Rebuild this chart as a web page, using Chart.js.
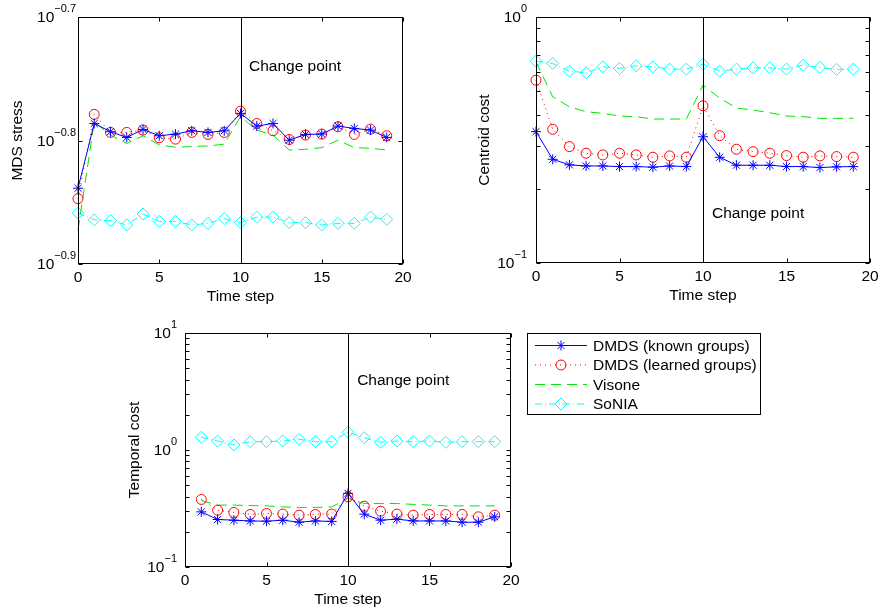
<!DOCTYPE html>
<html>
<head>
<meta charset="utf-8">
<script src="https://cdn.jsdelivr.net/npm/chart.js@4.4.1/dist/chart.umd.min.js"></script>
<style>
  html, body { margin: 0; padding: 0; background: #fff; }
  #wrap { position: relative; width: 881px; height: 612px; }
  #wrap canvas { position: absolute; left: 0; top: 0; }
</style>
</head>
<body>
<div id="wrap">
  <canvas id="stress" width="881" height="612"></canvas>
  <canvas id="centroid" width="881" height="612"></canvas>
  <canvas id="temporal" width="881" height="612"></canvas>
</div>
<script>
  "use strict";

  // ---- data ----
  const seriesNames = ['DMDS (known groups)', 'DMDS (learned groups)', 'Visone', 'SoNIA'];

  const stepsFrom0 = [0, 1, 2, 3, 4, 5, 6, 7, 8, 9, 10, 11, 12, 13, 14, 15, 16, 17, 18, 19];
  const stepsFrom1 = [1, 2, 3, 4, 5, 6, 7, 8, 9, 10, 11, 12, 13, 14, 15, 16, 17, 18, 19];
  const xTickValues = [0, 5, 10, 15, 20];
  const changeStep = 10;

  // MDS stress
  const stressKnown = [0.1450, 0.1636, 0.1611, 0.1594, 0.1618, 0.1599, 0.1604, 0.1614, 0.1609, 0.1614,
    0.1667, 0.1628, 0.1636, 0.1586, 0.1603, 0.1604, 0.1628, 0.1621, 0.1616, 0.1594];
  const stressLearned = [0.1422, 0.1664, 0.1609, 0.1609, 0.1616, 0.1593, 0.1589, 0.1609, 0.1603, 0.1609,
    0.1674, 0.1636, 0.1614, 0.1588, 0.1601, 0.1604, 0.1626, 0.1603, 0.1619, 0.1599];
  const stressVisone = [0.1341, 0.1641, 0.1601, 0.1576, 0.1599, 0.1572, 0.1565, 0.1567, 0.1569, 0.1574,
    0.1657, 0.1616, 0.1601, 0.1557, 0.1559, 0.1564, 0.1586, 0.1564, 0.1562, 0.1557];
  const stressSonia = [0.1384, 0.1367, 0.1365, 0.1354, 0.1382, 0.1363, 0.1363, 0.1354, 0.1358, 0.1370,
    0.1360, 0.1374, 0.1374, 0.1360, 0.1360, 0.1354, 0.1358, 0.1358, 0.1374, 0.1368];
  const stressTickValues = [0.125893, 0.158489, 0.199526];
  const stressTickExps = ['\u22120.9', '\u22120.8', '\u22120.7'];

  // Centroid cost
  const centroidKnown = [0.342, 0.264, 0.2506, 0.248, 0.248, 0.2466, 0.2466, 0.2452, 0.248, 0.2466,
    0.326, 0.269, 0.2497, 0.2497, 0.2497, 0.2466, 0.2466, 0.2443, 0.246, 0.2466];
  const centroidLearned = [0.5536, 0.3496, 0.2972, 0.2794, 0.2750, 0.2794, 0.2750, 0.2692, 0.2725, 0.2692,
    0.4357, 0.3293, 0.2900, 0.2836, 0.2794, 0.2733, 0.2692, 0.2725, 0.2707, 0.2692];
  const centroidVisone = [0.657, 0.4738, 0.4317, 0.412, 0.4059, 0.3959, 0.3933, 0.3849, 0.3849, 0.3849,
    0.5286, 0.468, 0.4266, 0.4186, 0.408, 0.3959, 0.3933, 0.3873, 0.3873, 0.3873];
  const centroidSonia = [0.6614, 0.6475, 0.6024, 0.5929, 0.6271, 0.6178, 0.6330, 0.6271, 0.6138, 0.6138,
    0.6433, 0.6024, 0.6138, 0.6214, 0.6214, 0.6138, 0.6372, 0.6236, 0.6120, 0.6138];
  const centroidTickValues = [0.1, 1];
  const centroidTickExps = ['\u22121', '0'];
  const centroidMinorTicks = [0.2, 0.3, 0.4, 0.5, 0.6, 0.7, 0.8, 0.9];

  // Temporal cost (starts at step 1)
  const temporalKnown = [0.296, 0.2547, 0.2512, 0.2475, 0.2463, 0.2512, 0.2415, 0.2475, 0.2453,
    0.4256, 0.283, 0.2512, 0.2564, 0.2475, 0.2475, 0.2475, 0.2415, 0.2415, 0.2683];
  const temporalLearned = [0.378, 0.306, 0.2924, 0.2812, 0.2868, 0.2835, 0.2773, 0.2812, 0.2835,
    0.398, 0.331, 0.300, 0.2835, 0.2773, 0.2812, 0.2812, 0.2812, 0.2683, 0.2773];
  const temporalVisone = [0.37, 0.338, 0.338, 0.335, 0.333, 0.3266, 0.323, 0.323, 0.3266,
    0.3855, 0.349, 0.349, 0.349, 0.343, 0.338, 0.333, 0.333, 0.333, 0.333];
  const temporalSonia = [1.285, 1.194, 1.104, 1.178, 1.178, 1.194, 1.236, 1.178, 1.178,
    1.419, 1.274, 1.164, 1.194, 1.178, 1.194, 1.164, 1.178, 1.178, 1.178];
  const temporalTickValues = [0.1, 1, 10];
  const temporalTickExps = ['\u22121', '0', '1'];
  const temporalMinorTicks = [0.2, 0.3, 0.4, 0.5, 0.6, 0.7, 0.8, 0.9, 2, 3, 4, 5, 6, 7, 8, 9];

  // ---- styles ----
  const FONT = '"Liberation Sans", Arial, Helvetica, sans-serif';
  const TEXT = '15.5px ' + FONT;
  const EXP = '11px ' + FONT;
  const seriesStyles = [
    { color: '#0000ff', dash: [], marker: 'star', radius: 5 },
    { color: '#ff0000', dash: [1, 4], marker: 'circle', radius: 5 },
    { color: '#00e600', dash: [10, 6], marker: false, radius: 0 },
    { color: '#00ffff', dash: [7, 3, 1, 3], marker: 'rectRot', radius: 6 }
  ];

  function makeDatasets(steps, lists) {
    return lists.map((values, i) => {
      const s = seriesStyles[i];
      return {
        label: seriesNames[i],
        data: steps.map((x, k) => ({ x: x, y: values[k] })),
        borderColor: s.color,
        backgroundColor: 'transparent',
        borderWidth: 1,
        borderDash: s.dash,
        pointStyle: s.marker || 'circle',
        pointRadius: s.radius,
        pointBorderWidth: 1,
        pointBorderColor: s.color,
        pointBackgroundColor: 'transparent',
        tension: 0,
        clip: false
      };
    });
  }

  function drawMarker(ctx, style, r, x, y) {
    ctx.beginPath();
    if (style === 'star') {
      for (let a = 0; a < 4; a++) {
        const t = a * Math.PI / 4;
        ctx.moveTo(x - Math.cos(t) * r, y - Math.sin(t) * r);
        ctx.lineTo(x + Math.cos(t) * r, y + Math.sin(t) * r);
      }
    } else if (style === 'circle') {
      ctx.arc(x, y, r, 0, Math.PI * 2);
    } else if (style === 'rectRot') {
      ctx.moveTo(x - r, y);
      ctx.lineTo(x, y - r);
      ctx.lineTo(x + r, y);
      ctx.lineTo(x, y + r);
      ctx.closePath();
    }
    ctx.stroke();
  }

  // MATLAB-like axes box, inward ticks, power-of-ten labels, change point
  const matlabAxes = {
    id: 'matlabAxes',
    afterDatasetsDraw(chart, args, o) {
      const ctx = chart.ctx;
      const a = chart.chartArea;
      const xs = chart.scales.x;
      const ys = chart.scales.y;
      const L = Math.round(a.left) + 0.5, R = Math.round(a.right) - 0.5;
      const T = Math.round(a.top) + 0.5, B = Math.round(a.bottom) - 0.5;
      const tick = 4;

      ctx.save();
      ctx.strokeStyle = '#000';
      ctx.lineWidth = 1;
      ctx.setLineDash([]);

      // change point line
      const cx = Math.round(xs.getPixelForValue(changeStep)) + 0.5;
      ctx.beginPath();
      ctx.moveTo(cx, T);
      ctx.lineTo(cx, B);
      ctx.stroke();

      // box
      ctx.strokeRect(L, T, R - L, B - T);

      // ticks
      ctx.beginPath();
      xTickValues.forEach(v => {
        const px = Math.round(xs.getPixelForValue(v)) + 0.5;
        ctx.moveTo(px, B); ctx.lineTo(px, B - tick);
        ctx.moveTo(px, T); ctx.lineTo(px, T + tick);
      });
      o.yTicks.concat(o.minorTicks || []).forEach(v => {
        const py = Math.round(ys.getPixelForValue(v)) + 0.5;
        ctx.moveTo(L, py); ctx.lineTo(L + tick, py);
        ctx.moveTo(R, py); ctx.lineTo(R - tick, py);
      });
      ctx.stroke();

      // x tick labels
      ctx.fillStyle = '#000';
      ctx.font = TEXT;
      ctx.textAlign = 'center';
      ctx.textBaseline = 'middle';
      xTickValues.forEach(v => {
        ctx.fillText(String(v), xs.getPixelForValue(v), a.bottom + 14);
      });

      // y tick labels: 10^exp
      o.yTicks.forEach((v, i) => {
        const py = ys.getPixelForValue(v);
        const exp = o.yExps[i];
        ctx.font = EXP;
        const ew = ctx.measureText(exp).width;
        const right = a.left - o.labelGap;
        ctx.textAlign = 'left';
        ctx.fillText(exp, right - ew, py - 8);
        ctx.font = TEXT;
        ctx.textAlign = 'right';
        ctx.fillText('10', right - ew, py + 1);
      });

      // axis titles
      ctx.font = TEXT;
      ctx.textAlign = 'center';
      ctx.fillText('Time step', (a.left + a.right) / 2, a.bottom + 33);
      ctx.save();
      ctx.translate(a.left - o.titleGap, (a.top + a.bottom) / 2);
      ctx.rotate(-Math.PI / 2);
      ctx.fillText(o.yTitle, 0, 0);
      ctx.restore();

      // change point label
      ctx.textAlign = 'left';
      ctx.fillText('Change point', xs.getPixelForValue(o.textAt[0]), ys.getPixelForValue(o.textAt[1]));

      // legend
      if (o.legend) {
        const box = o.legend;
        ctx.fillStyle = '#fff';
        ctx.fillRect(box.x, box.y, box.w, box.h);
        ctx.strokeRect(box.x + 0.5, box.y + 0.5, box.w, box.h);
        chart.data.datasets.forEach((ds, i) => {
          const s = seriesStyles[i];
          const ry = box.y + 12.5 + i * 19.5;
          ctx.strokeStyle = s.color;
          ctx.setLineDash(s.dash);
          ctx.beginPath();
          ctx.moveTo(box.x + 8, ry);
          ctx.lineTo(box.x + 60, ry);
          ctx.stroke();
          ctx.setLineDash([]);
          if (s.marker) {
            drawMarker(ctx, s.marker, s.radius, box.x + 34, ry);
          }
          ctx.fillStyle = '#000';
          ctx.font = TEXT;
          ctx.textAlign = 'left';
          ctx.fillText(ds.label, box.x + 66, ry + 1);
        });
      }
      ctx.restore();
    }
  };

  function makeChart(id, steps, lists, yMin, yMax, pad, axesOpts) {
    return new Chart(document.getElementById(id), {
      type: 'line',
      data: { datasets: makeDatasets(steps, lists) },
      options: {
        responsive: false,
        animation: false,
        events: [],
        layout: { padding: pad },
        scales: {
          x: { type: 'linear', min: 0, max: 20, display: false },
          y: { type: 'logarithmic', min: yMin, max: yMax, display: false }
        },
        plugins: {
          legend: { display: false },
          tooltip: { enabled: false },
          matlabAxes: axesOpts
        }
      },
      plugins: [matlabAxes]
    });
  }

  makeChart('stress', stepsFrom0, [stressKnown, stressLearned, stressVisone, stressSonia],
    0.125893, 0.199526,
    { left: 78, top: 17, right: 478, bottom: 348 },
    { yTicks: stressTickValues, yExps: stressTickExps, labelGap: 2, titleGap: 60,
      yTitle: 'MDS stress', textAt: [10.52, 0.1817] });

  makeChart('centroid', stepsFrom0, [centroidKnown, centroidLearned, centroidVisone, centroidSonia],
    0.1, 1,
    { left: 536, top: 17, right: 11, bottom: 349 },
    { yTicks: centroidTickValues, yExps: centroidTickExps, minorTicks: centroidMinorTicks,
      labelGap: 9, titleGap: 51, yTitle: 'Centroid cost', textAt: [10.54, 0.1585] });

  makeChart('temporal', stepsFrom1, [temporalKnown, temporalLearned, temporalVisone, temporalSonia],
    0.1, 10,
    { left: 185, top: 333, right: 370, bottom: 45 },
    { yTicks: temporalTickValues, yExps: temporalTickExps, minorTicks: temporalMinorTicks,
      labelGap: 8, titleGap: 50, yTitle: 'Temporal cost', textAt: [10.56, 3.9],
      legend: { x: 527, y: 333, w: 233, h: 81 } });
</script>
</body>
</html>
